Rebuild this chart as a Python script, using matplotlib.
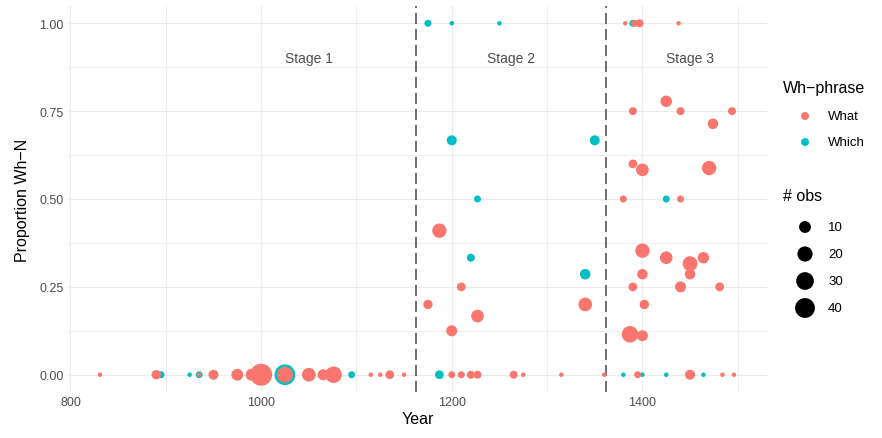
import numpy as np
import matplotlib.pyplot as plt

plt.rcParams["font.family"] = ["Liberation Sans", "DejaVu Sans"]

WHAT_COL = "#F8766D"
WHICH_COL = "#00BFC4"

# Which (drawn first)
which_year = [895, 925, 935, 1025, 1095, 1187, 1380, 1400, 1425, 1464,
              1175, 1200, 1250, 1390,
              1200, 1350, 1227, 1425, 1220, 1340]
which_prop = [0, 0, 0, 0, 0, 0, 0, 0, 0, 0,
              1, 1, 1, 1,
              0.667, 0.667, 0.5, 0.5, 0.333, 0.286]
which_n = [2, 1, 2, 45, 2, 4, 1, 1, 1, 1,
           2, 1, 1, 2,
           6, 6, 2, 2, 3, 7]

# What
what_year = [831, 890, 935, 950, 975, 990, 1000, 1025, 1050, 1065, 1076,
             1115, 1125, 1135, 1150, 1200, 1210, 1220, 1227, 1265, 1275,
             1315, 1360, 1395, 1450, 1484, 1496,
             1382, 1392, 1397, 1438,
             1425, 1390, 1440, 1494, 1474, 1390, 1400, 1470,
             1380, 1440, 1187, 1400, 1425, 1450, 1464, 1400, 1450,
             1210, 1390, 1440, 1481, 1175, 1340, 1402, 1227, 1200, 1387, 1400]
what_prop = [0] * 27 + [1, 1, 1, 1] + \
            [0.778, 0.75, 0.75, 0.75, 0.714, 0.6, 0.583, 0.588,
             0.5, 0.5, 0.41, 0.353, 0.333, 0.316, 0.333, 0.286, 0.286,
             0.25, 0.25, 0.25, 0.25, 0.2, 0.2, 0.2, 0.167, 0.125, 0.115, 0.111]
what_n = [1, 5, 1, 6, 10, 10, 52, 23, 15, 8, 25,
          1, 1, 4, 1, 2, 2, 3, 3, 3, 1,
          1, 1, 2, 6, 1, 1,
          1, 2, 3, 1,
          9, 3, 3, 3, 7, 4, 12, 17,
          2, 2, 17, 17, 12, 19, 9, 7, 7,
          4, 4, 8, 4, 5, 15, 5, 12, 8, 25, 8]

stage_breaks = [1162, 1362]
stage_labels = ["Stage 1", "Stage 2", "Stage 3"]
stage_pos = [1050, 1262, 1450]

legend_n = [10, 20, 30, 40]


def tamanho(n):
    # diametro em px -> area em pt^2
    d = 4.5 + 2.45 * np.sqrt(np.asarray(n, dtype=float) - 1)
    return (d * 0.72) ** 2


fig = plt.figure(figsize=(8.82, 4.39), dpi=100)
W, H = 882, 439
ax = fig.add_axes([68 / W, (H - 393.3) / H, (766.7 - 68) / W, (393.3 - 6.7) / H])

ax.set_xlim(797.4, 1530.4)
ax.set_ylim(-0.05, 1.05)

ax.set_xticks([800, 1000, 1200, 1400])
ax.set_xticks([900, 1100, 1300, 1500], minor=True)
ax.set_yticks([0, 0.25, 0.5, 0.75, 1.0])
ax.set_yticks([0.125, 0.375, 0.625, 0.875], minor=True)
ax.set_yticklabels(["0.00", "0.25", "0.50", "0.75", "1.00"])

ax.grid(True, which="major", color="#EBEBEB", linewidth=0.9)
ax.grid(True, which="minor", color="#EBEBEB", linewidth=0.6)
ax.set_axisbelow(True)
for s in ax.spines.values():
    s.set_visible(False)
ax.tick_params(which="both", length=0, labelsize=9, labelcolor="#4D4D4D", pad=3)

ax.scatter(which_year, which_prop, s=tamanho(which_n), color=WHICH_COL,
           linewidths=0, zorder=3)
ax.scatter(what_year, what_prop, s=tamanho(what_n), color=WHAT_COL,
           linewidths=0, zorder=4)

for b in stage_breaks:
    ax.axvline(b, color="#555555", linewidth=1.2, linestyle=(0, (6.6, 3)), zorder=2)

for lab, x in zip(stage_labels, stage_pos):
    ax.text(x, 0.9, lab, ha="center", va="center", fontsize=10, color="#4D4D4D")

ax.set_xlabel("Year", fontsize=11.5, labelpad=2)
ax.set_ylabel("Proportion Wh\u2212N", fontsize=11.5, labelpad=7)

# legendas
lg = fig.add_axes([0, 0, 1, 1], zorder=5)
lg.set_xlim(0, W)
lg.set_ylim(H, 0)
lg.axis("off")

lg.text(783, 88, "Wh\u2212phrase", fontsize=11.5, va="center", ha="left")
lg.scatter([805, 805], [117, 143], s=tamanho([3, 3]), color=[WHAT_COL, WHICH_COL],
           linewidths=0)
lg.text(828, 117, "What", fontsize=9.5, va="center")
lg.text(828, 143, "Which", fontsize=9.5, va="center")

lg.text(783, 197, "# obs", fontsize=11.5, va="center", ha="left")
ys = [228, 255, 282, 309]
lg.scatter([805] * 4, ys, s=tamanho(legend_n), color="black", linewidths=0)
for y, n in zip(ys, legend_n):
    lg.text(828, y, str(n), fontsize=9.5, va="center")

fig.savefig("out.png", dpi=100)
